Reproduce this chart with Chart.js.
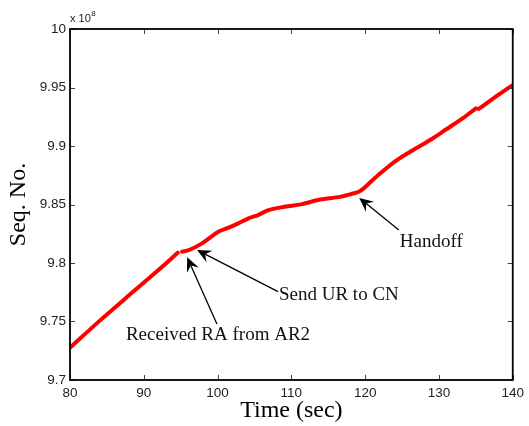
<!DOCTYPE html>
<html><head><meta charset="utf-8">
<script src="https://cdn.jsdelivr.net/npm/chart.js@4"></script>
<style>html,body{margin:0;padding:0;background:#fff}canvas{display:block}</style>
</head><body>
<canvas id="c" width="529" height="426"></canvas>
<script>
// ---- data (sequence numbers in units of 1e8) ----
const timeSec = [80, 84.2, 88.7, 93.15, 94.6, 94.9, 95.2, 96.1, 97.9, 100.1, 101.5, 102.8, 104.2, 105.5, 106.8, 109.1, 111.3, 113.6, 116.7, 117.6, 118.5, 119.2, 119.8, 120.3, 122.05, 124.3, 126.5, 128.8, 131.0, 133.2, 135.0, 135.2, 135.4, 137.7, 140];
const seqNo   = [9.7276, 9.7516, 9.7762, 9.8004, 9.8088, null, 9.8097, 9.8111, 9.8168, 9.8268, 9.8302, 9.8339, 9.8382, 9.8410, 9.8450, 9.8481, 9.8501, 9.8538, 9.8567, 9.8581, 9.8596, 9.8612, 9.8638, 9.8667, 9.8767, 9.8880, 9.8966, 9.9051, 9.9143, 9.9236, 9.9322, null, 9.9318, 9.9421, 9.9521];
const xTickValues = [80, 90, 100, 110, 120, 130, 140];
const yTickValues = [9.7, 9.75, 9.8, 9.85, 9.9, 9.95, 10];
const xTitle = 'Time (sec)';
const yTitle = 'Seq. No.';
const yExponent = '8';
// annotations: text anchor (left, baseline) and arrow tail -> tip, in data units
const noteText  = ['Handoff', 'Send UR to CN', 'Received RA from AR2'];
const noteTextX = [124.70, 108.32, 87.58];
const noteTextY = [9.8137, 9.7684, 9.7342];
const arrowTailX = [124.56, 108.19, 99.91];
const arrowTailY = [9.8282, 9.7755, 9.7479];
const arrowTipX  = [119.19, 97.22, 95.88];
const arrowTipY  = [9.8556, 9.8111, 9.8049];

const points = timeSec.map((t, i) => ({x: t, y: seqNo[i]}));

const decor = {
  id: 'decor',
  afterDatasetsDraw(chart) {
    const {ctx, chartArea: a, scales: {x, y}} = chart;
    ctx.save();
    // inward ticks on all four sides
    ctx.strokeStyle = '#444'; ctx.lineWidth = 1;
    const tl = 5;
    xTickValues.forEach(v => {
      const px = Math.round(x.getPixelForValue(v)) + 0.5;
      ctx.beginPath();
      ctx.moveTo(px, a.bottom); ctx.lineTo(px, a.bottom - tl);
      ctx.moveTo(px, a.top); ctx.lineTo(px, a.top + tl);
      ctx.stroke();
    });
    yTickValues.forEach(v => {
      const py = Math.round(y.getPixelForValue(v)) + 0.5;
      ctx.beginPath();
      ctx.moveTo(a.left, py); ctx.lineTo(a.left + tl, py);
      ctx.moveTo(a.right, py); ctx.lineTo(a.right - tl, py);
      ctx.stroke();
    });
    // frame
    ctx.strokeStyle = '#000'; ctx.lineWidth = 1.8;
    ctx.strokeRect(a.left, a.top, a.right - a.left, a.bottom - a.top);

    // annotations
    ctx.strokeStyle = '#000';
    ctx.font = '19px "Liberation Serif", "Times New Roman", serif';
    ctx.textBaseline = 'alphabetic'; ctx.textAlign = 'left';
    noteText.forEach((txt, i) => {
      ctx.fillStyle = '#111';
      ctx.fillText(txt, x.getPixelForValue(noteTextX[i]), y.getPixelForValue(noteTextY[i]));
      const x0 = x.getPixelForValue(arrowTailX[i]), y0 = y.getPixelForValue(arrowTailY[i]);
      const x1 = x.getPixelForValue(arrowTipX[i]), y1 = y.getPixelForValue(arrowTipY[i]);
      const ang = Math.atan2(y1 - y0, x1 - x0);
      const L = 14, W = 6.5, N = 9;
      const ux = Math.cos(ang), uy = Math.sin(ang);
      ctx.lineWidth = 1.3;
      ctx.beginPath(); ctx.moveTo(x0, y0); ctx.lineTo(x1 - ux * N, y1 - uy * N); ctx.stroke();
      ctx.beginPath();
      ctx.moveTo(x1, y1);
      ctx.lineTo(x1 - ux * L - uy * W, y1 - uy * L + ux * W);
      ctx.lineTo(x1 - ux * N, y1 - uy * N);
      ctx.lineTo(x1 - ux * L + uy * W, y1 - uy * L - ux * W);
      ctx.closePath();
      ctx.fillStyle = '#000'; ctx.fill();
    });

    // axis titles
    ctx.fillStyle = '#000';
    ctx.font = '24px "Liberation Serif", "Times New Roman", serif';
    ctx.textAlign = 'center';
    ctx.fillText(xTitle, (a.left + a.right) / 2, 417);
    ctx.save();
    ctx.translate(25, (a.top + a.bottom) / 2);
    ctx.rotate(-Math.PI / 2);
    ctx.fillText(yTitle, 0, 0);
    ctx.restore();

    // exponent label
    ctx.textAlign = 'left';
    ctx.fillStyle = '#222';
    ctx.font = '11px "Liberation Sans", Arial, sans-serif';
    ctx.fillText('x 10', a.left, 22);
    const w = ctx.measureText('x 10').width;
    ctx.font = '8px "Liberation Sans", Arial, sans-serif';
    ctx.fillText(yExponent, a.left + w + 0.5, 16);
    ctx.restore();
  }
};

const fmt = v => String(Number(Number(v).toFixed(2)));
const tickFont = {family: '"Liberation Sans", Arial, sans-serif', size: 13.5};

new Chart(document.getElementById('c'), {
  type: 'line',
  data: {
    datasets: [{
      data: points,
      borderColor: '#ff0000',
      borderWidth: 4,
      pointRadius: 0,
      cubicInterpolationMode: 'monotone',
      spanGaps: false,
      borderCapStyle: 'round',
      borderJoinStyle: 'round',
      fill: false
    }]
  },
  options: {
    responsive: false,
    animation: false,
    devicePixelRatio: 1,
    layout: {padding: {left: 0, right: 12, top: 29, bottom: 0}},
    plugins: {legend: {display: false}, tooltip: {enabled: false}},
    scales: {
      x: {
        type: 'linear', min: 80, max: 140,
        afterBuildTicks: s => { s.ticks = xTickValues.map(v => ({value: v})); },
        afterFit: s => { s.height = 46; },
        grid: {display: false, drawTicks: false},
        border: {display: false},
        ticks: {padding: 5, color: '#222', font: tickFont, callback: v => fmt(v), maxRotation: 0}
      },
      y: {
        type: 'linear', min: 9.7, max: 10,
        afterBuildTicks: s => { s.ticks = yTickValues.map(v => ({value: v})); },
        afterFit: s => { s.width = 70; },
        grid: {display: false, drawTicks: false},
        border: {display: false},
        ticks: {padding: 4, color: '#222', font: tickFont, callback: v => fmt(v)}
      }
    }
  },
  plugins: [decor]
});
</script>
</body></html>
